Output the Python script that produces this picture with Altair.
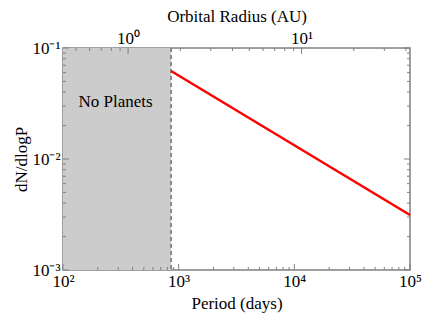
import altair as alt
import pandas as pd

# ---- data ----
period_ticks = [1e2, 1e3, 1e4, 1e5]
period_labels = ["10²", "10³", "10⁴", "10⁵"]
y_ticks = [1e-3, 1e-2, 1e-1]
y_labels = ["10⁻³", "10⁻²", "10⁻¹"]
au_ticks = [1, 10]
au_labels = ["10⁰", "10¹"]
cutoff_period = 860
line_period = [860, 1e5]
line_dndlogp = [0.062, 0.00313]
note_text = ["No Planets"]
note_period = [285]
note_dndlogp = [0.0325]

P_MIN, P_MAX = 1e2, 1e5
Y_MIN, Y_MAX = 1e-3, 1e-1
AU_MIN = (P_MIN / 365.25) ** (2 / 3)
AU_MAX = (P_MAX / 365.25) ** (2 / 3)

W, H = 347, 222
FRAME = "#808080"
FONT = "Liberation Serif, Times New Roman, serif"


def label_expr(values, labels):
    expr = "''"
    for v, l in reversed(list(zip(values, labels))):
        expr = f"(abs(log(datum.value) - log({v})) < 0.01 ? '{l}' : {expr})"
    return expr


xs = alt.Scale(type="log", domain=[P_MIN, P_MAX], nice=False)
ys = alt.Scale(type="log", domain=[Y_MIN, Y_MAX], nice=False)
aus = alt.Scale(type="log", domain=[AU_MIN, AU_MAX], nice=False)

x_axis = alt.Axis(values=period_ticks, labelExpr=label_expr(period_ticks, period_labels),
                  title="Period (days)", orient="bottom", titlePadding=6)
y_axis = alt.Axis(values=y_ticks, labelExpr=label_expr(y_ticks, y_labels),
                  title="dN/dlogP", orient="left", titlePadding=1)
au_axis = alt.Axis(orient="top", values=au_ticks, labelExpr=label_expr(au_ticks, au_labels),
                   title="Orbital Radius (AU)", titlePadding=4, labelPadding=1)

# minor tick positions
p_minor = [d * k for d in [1e2, 1e3, 1e4] for k in range(2, 10)]
y_minor = [d * k for d in [1e-3, 1e-2] for k in range(2, 10)]
au_minor = [d * k for d in [0.1, 1, 10] for k in range(2, 10) if AU_MIN <= d * k <= AU_MAX]


def X(field, scale=xs, axis=x_axis):
    return alt.X(field, scale=scale, axis=axis, title=axis.title)


def Y(field):
    return alt.Y(field, scale=ys, axis=y_axis, title=y_axis.title)


shade = alt.Chart(pd.DataFrame({"x": [P_MIN], "x2": [cutoff_period], "y": [Y_MIN], "y2": [Y_MAX]})).mark_rect(
    color="#cccccc"
).encode(x=X("x:Q"), x2="x2:Q", y=Y("y:Q"), y2="y2:Q")

dash = alt.Chart(pd.DataFrame({"x": [cutoff_period]})).mark_rule(
    color="#707070", strokeDash=[4, 3], strokeWidth=1.5
).encode(x=X("x:Q"), y=alt.value(0), y2=alt.value(H))

line = alt.Chart(pd.DataFrame({"p": line_period, "d": line_dndlogp})).mark_line(
    color="#ff0000", strokeWidth=2.5
).encode(x=X("p:Q"), y=Y("d:Q"))

note = alt.Chart(pd.DataFrame({"t": note_text, "p": note_period, "d": note_dndlogp})).mark_text(
    font=FONT, fontSize=17, color="black"
).encode(x=X("p:Q"), y=Y("d:Q"), text="t:N")


def xticks(vals, scale, axis, y0, y1):
    return alt.Chart(pd.DataFrame({"v": vals})).mark_rule(color=FRAME, strokeWidth=1).encode(
        x=X("v:Q", scale, axis), y=alt.value(y0), y2=alt.value(y1))


def yticks(vals, x0, x1):
    return alt.Chart(pd.DataFrame({"v": vals})).mark_rule(color=FRAME, strokeWidth=1).encode(
        y=Y("v:Q"), x=alt.value(x0), x2=alt.value(x1))


base = alt.layer(
    shade, dash, line, note,
    xticks(p_minor, xs, x_axis, H, H - 3), xticks(period_ticks, xs, x_axis, H, H - 6),
    yticks(y_minor, 0, 3), yticks(y_ticks, 0, 6),
    yticks(y_minor, W, W - 3), yticks(y_ticks, W, W - 6),
)

top = alt.layer(
    xticks(au_minor, aus, au_axis, 0, 3),
    xticks(au_ticks, aus, au_axis, 0, 6),
)

chart = alt.layer(base, top).resolve_scale(x="independent").properties(
    width=W, height=H,
    autosize=alt.AutoSizeParams(type="none"),
    padding={"left": 55, "top": 40, "right": 18, "bottom": 49},
).configure_view(
    stroke=FRAME, strokeWidth=1.5
).configure_axis(
    labelFont=FONT, labelFontSize=17, labelColor="black",
    titleFont=FONT, titleFontSize=17, titleFontWeight="normal", titleColor="black",
    ticks=False, domain=False, grid=False, labelPadding=3,
    labelFlush=False, labelOverlap=False,
)

chart.save("out.html", embed_options={"renderer": "svg", "actions": False})
